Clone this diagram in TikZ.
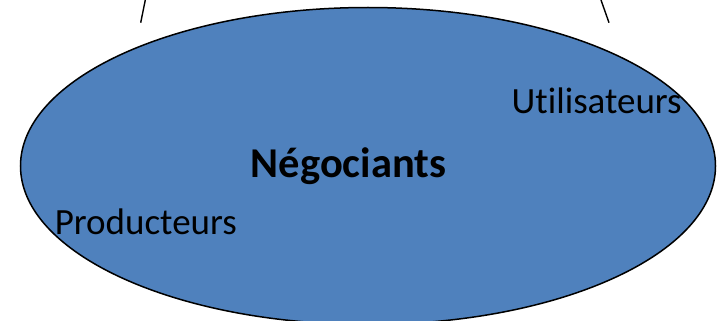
\documentclass[tikz,border=0pt]{standalone}
\usepackage{fontspec}
\setmainfont{Carlito}[Ligatures=NoCommon]
\usetikzlibrary{shapes.geometric}
\definecolor{officeblue}{HTML}{4F81BD}
\tikzset{
  oval/.style={ellipse, draw=black, fill=officeblue, line width=1.5pt, inner sep=0pt, minimum width=695pt, minimum height=317pt},
  lbl/.style={inner sep=0pt, anchor=base, font=\fontsize{37}{41}\selectfont},
  title/.style={inner sep=0pt, anchor=base, font=\fontsize{42.5}{46}\selectfont\bfseries},
  edge/.style={line width=1.4pt, black}
}
\begin{document}
\begin{tikzpicture}[x=1pt,y=-1pt]
\useasboundingbox (0,0) rectangle (723,321);
\coordinate (l1) at (140.7,22.7);
\coordinate (l2) at (145.3,0);
\coordinate (r1) at (601,0);
\coordinate (r2) at (609,22.7);
\draw[edge] (l1) -- (l2);
\draw[edge] (r1) -- (r2);
\node[oval] (ell) at (368,166) {};
\node[title] (neg) at (348.5,177.3) {Négociants};
\node[lbl] (uti) at (596.7,113.3) {Utilisateurs};
\node[lbl] (pro) at (145.8,234.3) {Producteurs};
\end{tikzpicture}
\end{document}
